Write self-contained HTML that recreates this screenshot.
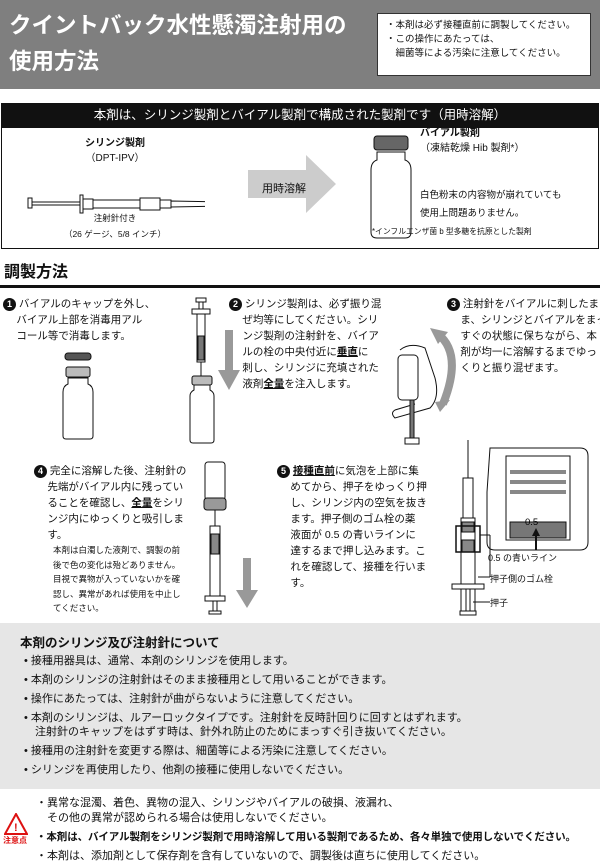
<!DOCTYPE html>
<html><head><meta charset="utf-8"><style>
*{margin:0;padding:0;box-sizing:border-box}
body{width:600px;height:862px;position:relative;background:#fff;font-family:"Liberation Sans","Noto Sans CJK JP",sans-serif;color:#111;overflow:hidden}
.a{position:absolute}
.t{font-size:10.5px;line-height:16px}
.s{font-size:8.5px;line-height:14.5px}
.n{display:inline-block;width:13px;height:13px;border-radius:50%;background:#111;color:#fff;font-size:9px;line-height:13px;text-align:center;font-weight:bold}
.g li{list-style:none;font-size:11px;line-height:14px;margin-bottom:5px}
u{text-decoration:underline;font-weight:bold}
</style></head><body>
<div class="a" style="left:0;top:0;width:600px;height:89px;background:#7f7f7f"></div>
<div class="a" style="left:9px;top:8px;color:#fff;font-weight:bold;font-size:22.5px;line-height:36px">クイントバック水性懸濁注射用の<br>使用方法</div>
<div class="a" style="left:377px;top:13px;width:214px;height:63px;background:#fff;border:1px solid #333;padding:5px 8px;font-size:9.5px;line-height:14px">・本剤は必ず接種直前に調製してください。<br>・この操作にあたっては、<br>　細菌等による汚染に注意してください。</div>

<div class="a" style="left:1px;top:103px;width:598px;height:146px;border:1.5px solid #111"></div>
<div class="a" style="left:1px;top:103px;width:598px;height:25px;background:#111;color:#fff;font-size:12.5px;line-height:25px;text-align:center">本剤は、シリンジ製剤とバイアル製剤で構成された製剤です（用時溶解）</div>
<div class="a" style="left:60px;top:136px;width:110px;text-align:center;font-size:10px;line-height:15px"><b>シリンジ製剤</b><br>（DPT-IPV）</div>
<svg class="a" style="left:25px;top:192px" width="180" height="24"><g fill="#fff" stroke="#111" stroke-width="1"><rect x="3" y="6" width="4" height="10"/><rect x="7" y="10" width="48" height="3"/><rect x="55" y="3" width="3" height="18"/><rect x="58" y="7" width="10" height="10"/><rect x="68" y="8" width="78" height="8"/><rect x="115" y="6" width="20" height="12"/><polygon points="146,9 200,10 200,14 146,15"/></g></svg>
<div class="a" style="left:55px;top:210px;width:120px;text-align:center;font-size:8.5px;line-height:16px">注射針付き<br>（26 ゲージ、5/8 インチ）</div>
<svg class="a" style="left:248px;top:155px" width="90" height="58"><polygon points="0,15 58,15 58,0 88,29 58,58 58,43 0,43" fill="#ccc"/></svg>
<div class="a" style="left:262px;top:180px;font-size:11px">用時溶解</div>
<svg class="a" style="left:370px;top:132px" width="44" height="110"><g stroke="#111" fill="#fff"><rect x="4" y="4" width="34" height="14" rx="3" fill="#666"/><path d="M7 20 h28 v8 q6 2 6 10 v62 q0 6 -6 6 h-28 q-6 0 -6 -6 v-62 q0 -8 6 -10 z"/></g></svg>
<div class="a" style="left:420px;top:126px;font-size:10px;line-height:15px"><b>バイアル製剤</b><br>（凍結乾燥 Hib 製剤*）</div>
<div class="a" style="left:420px;top:187px;font-size:9.5px;line-height:18px">白色粉末の内容物が崩れていても<br>使用上問題ありません。</div>
<div class="a" style="left:372px;top:226px;font-size:7.8px">*インフルエンザ菌 b 型多糖を抗原とした製剤</div>

<div class="a" style="left:4px;top:258px;font-size:16px;font-weight:bold">調製方法</div>
<div class="a" style="left:0;top:285px;width:600px;height:3px;background:#111"></div>

<div class="a t" style="left:3px;top:296px"><span class="n">1</span> バイアルのキャップを外し、<br>　 バイアル上部を消毒用アル<br>　 コール等で消毒します。</div>
<svg class="a" style="left:60px;top:350px" width="40" height="90"><g stroke="#111" fill="#fff"><rect x="5" y="3" width="26" height="7" rx="3" fill="#555"/><rect x="6" y="17" width="24" height="10" rx="2" fill="#bbb"/><path d="M8 28 h20 v6 q5 2 5 8 v44 q0 3 -3 3 h-24 q-3 0 -3 -3 v-44 q0 -6 5 -8z"/></g></svg>
<svg class="a" style="left:185px;top:296px" width="40" height="152"><g stroke="#111" fill="#fff"><rect x="11" y="2" width="10" height="4"/><rect x="14" y="6" width="4" height="7"/><rect x="7" y="13" width="18" height="5"/><rect x="12" y="18" width="8" height="48"/><rect x="13" y="40" width="6" height="24" fill="#777"/><line x1="16" y1="66" x2="16" y2="80"/><rect x="7" y="80" width="20" height="9" rx="2" fill="#bbb"/><path d="M9 89 h16 v5 q4 2 4 6 v44 q0 3 -3 3 h-18 q-3 0 -3 -3 v-44 q0 -4 4 -6z"/></g></svg>
<svg class="a" style="left:218px;top:330px" width="22" height="62"><polygon points="7,0 15,0 15,40 22,40 11,60 0,40 7,40" fill="#999"/></svg>
<div class="a t" style="left:229px;top:296px"><span class="n">2</span> シリンジ製剤は、必ず振り混<br>　 ぜ均等にしてください。シリ<br>　 ンジ製剤の注射針を、バイア<br>　 ルの栓の中央付近に<u>垂直</u>に<br>　 刺し、シリンジに充填された<br>　 液剤<u>全量</u>を注入します。</div>
<svg class="a" style="left:380px;top:320px" width="90" height="130"><g stroke="#111" fill="#fff"><path d="M20 30 q10 -8 25 -2 l10 30 q5 20 -5 30 l-35 10 q-5 -5 0 -8 l20 -6"/><rect x="18" y="35" width="20" height="45" rx="4"/><rect x="30" y="80" width="4" height="40" fill="#777"/><rect x="25" y="118" width="14" height="6"/></g><path d="M58 14 q25 20 5 70" stroke="#999" stroke-width="8" fill="none"/><polygon points="50,8 68,12 58,24" fill="#999"/><polygon points="55,82 70,80 60,92" fill="#999"/></svg>
<div class="a t" style="left:447px;top:296px;white-space:nowrap"><span class="n">3</span> 注射針をバイアルに刺したま<br>　 ま、シリンジとバイアルをまっ<br>　 すぐの状態に保ちながら、本<br>　 剤が均一に溶解するまでゆっ<br>　 くりと振り混ぜます。</div>

<div class="a t" style="left:34px;top:463px"><span class="n">4</span> 完全に溶解した後、注射針の<br>　 先端がバイアル内に残ってい<br>　 ることを確認し、<u>全量</u>をシリ<br>　 ンジ内にゆっくりと吸引しま<br>　 す。</div>
<div class="a s" style="left:53px;top:543px">本剤は白濁した液剤で、調製の前<br>後で色の変化は殆どありません。<br>目視で異物が入っていないかを確<br>認し、異常があれば使用を中止し<br>てください。</div>
<svg class="a" style="left:200px;top:460px" width="30" height="155"><g stroke="#111" fill="#fff"><rect x="5" y="2" width="20" height="38" rx="3"/><rect x="4" y="38" width="22" height="12" rx="3" fill="#999"/><line x1="15" y1="50" x2="15" y2="66"/><rect x="10" y="66" width="10" height="70"/><rect x="11" y="74" width="8" height="20" fill="#888"/><rect x="5" y="136" width="20" height="5"/><rect x="13" y="141" width="4" height="10"/><rect x="9" y="151" width="12" height="3"/></g></svg>
<svg class="a" style="left:236px;top:558px" width="22" height="52"><polygon points="7,0 15,0 15,32 22,32 11,50 0,32 7,32" fill="#999"/></svg>
<div class="a t" style="left:277px;top:463px"><span class="n">5</span> <u>接種直前</u>に気泡を上部に集<br>　 めてから、押子をゆっくり押<br>　 し、シリンジ内の空気を抜き<br>　 ます。押子側のゴム栓の薬<br>　 液面が 0.5 の青いラインに<br>　 達するまで押し込みます。こ<br>　 れを確認して、接種を行いま<br>　 す。</div>
<svg class="a" style="left:440px;top:440px" width="160" height="180"><g stroke="#111" fill="#fff"><line x1="28" y1="0" x2="28" y2="38"/><rect x="23" y="38" width="10" height="40"/><rect x="21" y="78" width="14" height="95"/><rect x="22" y="82" width="12" height="10" fill="#888"/><rect x="22" y="100" width="12" height="12" fill="#888"/><rect x="12" y="144" width="32" height="5"/><rect x="26" y="149" width="4" height="22"/><rect x="20" y="171" width="16" height="4"/><rect x="16" y="86" width="24" height="26" fill="none" stroke-width="1.5"/><path d="M50 8 h90 q8 0 8 8 v86 q0 8 -8 8 h-85 q-8 0 -8 -8 v-50 z"/><rect x="66" y="16" width="64" height="84" fill="#fff"/><rect x="70" y="30" width="56" height="4" fill="#888" stroke="none"/><rect x="70" y="40" width="56" height="4" fill="#888" stroke="none"/><rect x="70" y="50" width="56" height="4" fill="#888" stroke="none"/><rect x="70" y="82" width="56" height="16" fill="#777"/><line x1="38" y1="137" x2="50" y2="137"/><line x1="33" y1="162" x2="50" y2="162"/><line x1="40" y1="95" x2="50" y2="95"/><line x1="50" y1="95" x2="50" y2="137"/></g><polygon points="96,88 92,96 95,96 95,110 97,110 97,96 100,96" fill="#111"/><text x="85" y="85" font-size="9.5" font-family="Liberation Sans">0.5</text></svg>
<div class="a" style="left:488px;top:551px;font-size:9px">0.5 の青いライン</div>
<div class="a" style="left:490px;top:572px;font-size:9px">押子側のゴム栓</div>
<div class="a" style="left:490px;top:596px;font-size:9px">押子</div>

<div class="a" style="left:0;top:623px;width:600px;height:166px;background:#e6e6e6"></div>
<div class="a" style="left:20px;top:632px;font-size:12.5px;font-weight:bold">本剤のシリンジ及び注射針について</div>
<ul class="a g" style="left:24px;top:654px">
<li>• 接種用器具は、通常、本剤のシリンジを使用します。</li>
<li>• 本剤のシリンジの注射針はそのまま接種用として用いることができます。</li>
<li>• 操作にあたっては、注射針が曲がらないように注意してください。</li>
<li>• 本剤のシリンジは、ルアーロックタイプです。注射針を反時計回りに回すとはずれます。<br>　注射針のキャップをはずす時は、針外れ防止のためにまっすぐ引き抜いてください。</li>
<li>• 接種用の注射針を変更する際は、細菌等による汚染に注意してください。</li>
<li>• シリンジを再使用したり、他剤の接種に使用しないでください。</li>
</ul>
<svg class="a" style="left:4px;top:813px" width="24" height="22"><polygon points="12,1 23,21 1,21" fill="#fff" stroke="#d11" stroke-width="2"/><text x="10" y="18" font-size="11" fill="#d11" font-weight="bold" font-family="Liberation Sans">!</text></svg>
<div class="a" style="left:3px;top:835px;font-size:8px;color:#d11;font-weight:bold">注意点</div>
<div class="a" style="left:36px;top:796px;font-size:11px;line-height:15px">・異常な混濁、着色、異物の混入、シリンジやバイアルの破損、液漏れ、<br>　その他の異常が認められる場合は使用しないでください。</div>
<div class="a" style="left:36px;top:829px;font-size:10.5px;font-weight:bold;white-space:nowrap;letter-spacing:-0.1px">・本剤は、バイアル製剤をシリンジ製剤で用時溶解して用いる製剤であるため、各々単独で使用しないでください。</div>
<div class="a" style="left:36px;top:847px;font-size:11px">・本剤は、添加剤として保存剤を含有していないので、調製後は直ちに使用してください。</div>
</body></html>
